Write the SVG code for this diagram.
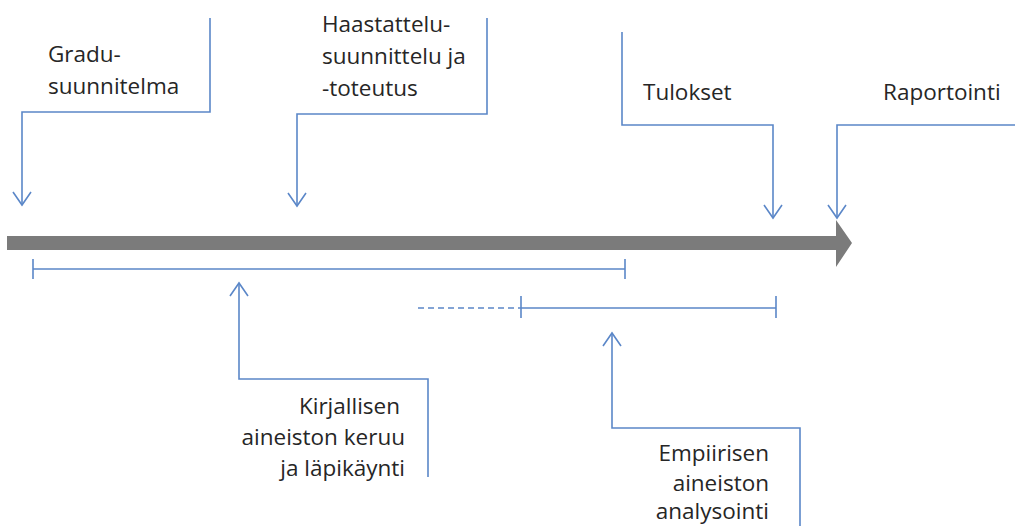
<svg xmlns="http://www.w3.org/2000/svg" width="1015" height="526" viewBox="0 0 1015 526">
  <style>
    .lbl { font-family: "Open Sans", "Liberation Sans", sans-serif; font-size: 22.5px; fill: #262626; }
    .end { text-anchor: end; }
    .conn { fill: none; stroke: #5b87c8; stroke-width: 1.6; }
    .dash { stroke-dasharray: 6 4; }
  </style>
  <defs>
    <marker id="open" markerUnits="userSpaceOnUse" markerWidth="30" markerHeight="30" refX="15" refY="15" orient="auto" overflow="visible">
      <path d="M2 6 L15 15 L2 24" fill="none" stroke="#5b87c8" stroke-width="1.6"/>
    </marker>
  </defs>
  <rect width="1015" height="526" fill="#ffffff"/>

  <!-- timeline -->
  <g id="timeline">
    <path d="M7 236 H836 V220 L852 243 L836 267 V250 H7 Z" fill="#7b7b7b"/>
  </g>

  <!-- connectors and spans -->
  <g id="connectors">
    <path class="conn" d="M210 18 V112 H22 V205" marker-end="url(#open)"/>
    <path class="conn" d="M487 18 V114 H297 V206" marker-end="url(#open)"/>
    <path class="conn" d="M622 32 V125 H773 V218" marker-end="url(#open)"/>
    <path class="conn" d="M1015 125 H837 V218" marker-end="url(#open)"/>
    <path class="conn" d="M428 477 V379 H239 V283" marker-end="url(#open)"/>
    <path class="conn" d="M800 526 V428 H612 V333" marker-end="url(#open)"/>
    <!-- literature span -->
    <path class="conn" d="M33 269 H625 M33 259 V279 M625 259 V279"/>
    <!-- empirical span -->
    <path class="conn dash" d="M418 308 H521"/>
    <path class="conn" d="M521 308 H776 M521 296 V318 M776 296 V318"/>
  </g>

  <g id="gradu">
    <text class="lbl" x="48" y="62">Gradu-</text>
    <text class="lbl" x="48" y="94">suunnitelma</text>
  </g>
  <g id="haastattelu">
    <text class="lbl" x="322" y="32">Haastattelu-</text>
    <text class="lbl" x="322" y="64">suunnittelu ja</text>
    <text class="lbl" x="322" y="96">-toteutus</text>
  </g>
  <g id="tulokset">
    <text class="lbl" x="643" y="100">Tulokset</text>
  </g>
  <g id="raportointi">
    <text class="lbl" x="883" y="100">Raportointi</text>
  </g>
  <g id="kirjallisen">
    <text class="lbl end" x="400" y="414">Kirjallisen</text>
    <text class="lbl end" x="405" y="445">aineiston keruu</text>
    <text class="lbl end" x="405" y="476">ja läpikäynti</text>
  </g>
  <g id="empiirisen">
    <text class="lbl end" x="769" y="461">Empiirisen</text>
    <text class="lbl end" x="769" y="491">aineiston</text>
    <text class="lbl end" x="769" y="519">analysointi</text>
  </g>
</svg>
